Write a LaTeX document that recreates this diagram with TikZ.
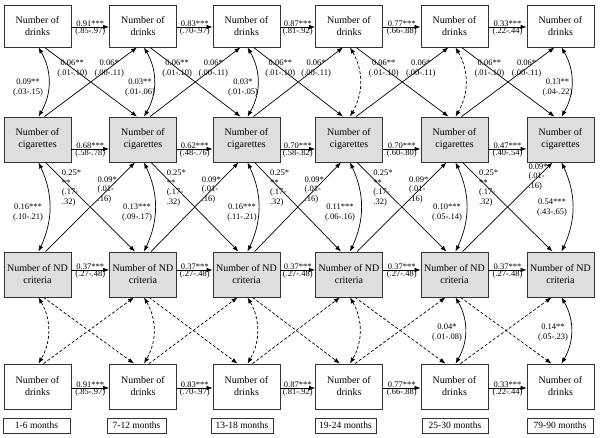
\documentclass[tikz,border=0pt]{standalone}
\usepackage{fontspec}
\setmainfont{Liberation Serif}
\usetikzlibrary{arrows.meta,calc}
\begin{document}
\begin{tikzpicture}[x=1pt,y=1pt,
  box/.style={draw=black!80, line width=0.8pt, minimum width=67pt, minimum height=45pt, align=center, font=\fontsize{10}{12}\selectfont, inner sep=0pt},
  wbox/.style={box, fill=white},
  gbox/.style={box, fill=black!13},
  arr/.style={-{Latex[length=6pt,width=4.5pt]}, line width=0.7pt},
  darr/.style={{Latex[length=6pt,width=4.5pt]}-{Latex[length=6pt,width=4.5pt]}, line width=0.7pt},
  dsh/.style={dash pattern=on 3pt off 2pt},
  lab/.style={font=\fontsize{8.5}{10}\selectfont, inner sep=0.5pt, align=center},
  nlab/.style={font=\fontsize{8.5}{9.5}\selectfont, inner sep=0.5pt, align=left},
  mlab/.style={draw=black!80, line width=0.6pt, minimum height=15pt, inner sep=0pt, font=\fontsize{9.5}{11}\selectfont},
]
\useasboundingbox (0,0) rectangle (600,-438);

% boxes
\foreach \i/\x in {1/37.5,2/143,3/246.5,4/349,5/454.5,6/560.5}{
  \node[wbox, minimum height=42pt] (d\i) at (\x,-26) {Number of\\drinks};
  \node[gbox] (c\i) at (\x,-139.5) {Number of\\cigarettes};
  \node[gbox] (n\i) at (\x,-274.5) {Number of ND\\criteria};
  \node[wbox] (e\i) at (\x,-386.5) {Number of\\drinks};
}

% month labels
\foreach \i/\x/\w/\t in {1/36.5/67/1-6 months,2/136.5/59/7-12 months,3/242/62/13-18 months,4/345.5/61/19-24 months,5/455/66/25-30 months,6/560/66/79-90 months}{
  \node[mlab, minimum width=\w pt] (m\i) at (\x,-425.5) {\t};
}

% horizontal arrows
\foreach \i/\a/\b/\p/\q in {1/0.91/.85-.97/0.68/.58-.78,2/0.83/.70-.97/0.62/.48-.76,3/0.87/.81-.92/0.70/.58-.82,4/0.77/.66-.88/0.70/.60-.80,5/0.33/.22-.44/0.47/.40-.54}{
  \pgfmathtruncatemacro{\j}{\i+1}
  \draw[arr] ($(d\i.east)+(0,-1)$) -- ($(d\j.west)+(0,-1)$) node[lab,midway,above]{\a***} node[lab,midway,below]{(\b)};
  \draw[arr] ($(e\i.east)+(0,-1.5)$) -- ($(e\j.west)+(0,-1.5)$) node[lab,midway,above]{\a***} node[lab,midway,below]{(\b)};
  \draw[arr] ($(c\i.east)+(0,-9.5)$) -- ($(c\j.west)+(0,-9.5)$) node[lab,midway,above]{\p***} node[lab,midway,below]{(\q)};
  \draw[arr] ($(n\i.east)+(0,4.5)$) -- ($(n\j.west)+(0,4.5)$) node[lab,midway,above]{0.37***} node[lab,midway,below]{(.27-.48)};
}

% cross-lagged paths
\foreach \i/\pp in {1/0.69,2/0.69,3/0.69,4/0.69,5/0.84}{
  \pgfmathtruncatemacro{\j}{\i+1}
  \draw[arr] ($(d\i.south)+(7,0)$) -- ($(c\j.north)+(-6,0)$) node[lab,pos=0.3]{0.06**\\(.01-.10)};
  \draw[arr] ($(c\i.north)+(7,0)$) -- ($(d\j.south)+(-6,0)$) node[lab,pos=0.7]{0.06*\\(.00-.11)};
  \draw[arr] ($(c\i.south)+(8,0)$) -- ($(n\j.north)+(-8,0)$) node[nlab,pos=0.29]{0.25*\\**\\(.17-\\.32)};
  \draw[arr] ($(n\i.north)+(8,0)$) -- ($(c\j.south)+(-8,0)$) node[nlab,pos=\pp]{0.09*\\(.01-\\.16)};
  \draw[arr,dsh] ($(n\i.south)+(6,0)$) -- ($(e\j.north)+(-9,0)$);
  \draw[arr,dsh] ($(e\i.north)+(6,0)$) -- ($(n\j.south)+(-9,0)$);
}

% within-time correlations
\foreach \i in {1,2,3,6}{
  \draw[darr] ($(d\i.south)+(1,0)$) to[out=-60,in=60] ($(c\i.north)+(1,0)$);
}
\foreach \i in {4,5}{
  \draw[darr,dsh] ($(d\i.south)+(1,0)$) to[out=-60,in=60] ($(c\i.north)+(1,0)$);
}
\foreach \i in {1,...,6}{
  \draw[darr] ($(c\i.south)+(1,0)$) to[out=-65,in=65] ($(n\i.north)+(1,0)$);
}
\foreach \i in {1,...,4}{
  \draw[darr,dsh] ($(n\i.south)+(1,0)$) to[out=-60,in=60] ($(e\i.north)+(1,0)$);
}
\foreach \i in {5,6}{
  \draw[darr] ($(n\i.south)+(1,0)$) to[out=-60,in=60] ($(e\i.north)+(1,0)$);
}

% correlation labels
\node[lab] (r1) at (28,-88) {0.09**\\(.03-.15)};
\node[lab] (r2) at (140,-88) {0.03**\\(.01-.06)};
\node[lab] (r3) at (243,-88) {0.03*\\(.01-.05)};
\node[lab] (r6) at (557.5,-88) {0.13**\\(.04-.22)};
\node[lab] (s1) at (28,-213) {0.16***\\(.10-.21)};
\node[lab] (s2) at (137,-213) {0.13***\\(.09-.17)};
\node[lab] (s3) at (242,-213) {0.16***\\(.11-.21)};
\node[lab] (s4) at (340,-213) {0.11***\\(.06-.16)};
\node[lab] (s5) at (447,-213) {0.10***\\(.05-.14)};
\node[lab] (s6) at (552,-208) {0.54***\\(.43-.65)};
\node[lab] (t5) at (447,-333) {0.04*\\(.01-.08)};
\node[lab] (t6) at (553,-333) {0.14**\\(.05-.23)};
\end{tikzpicture}
\end{document}
